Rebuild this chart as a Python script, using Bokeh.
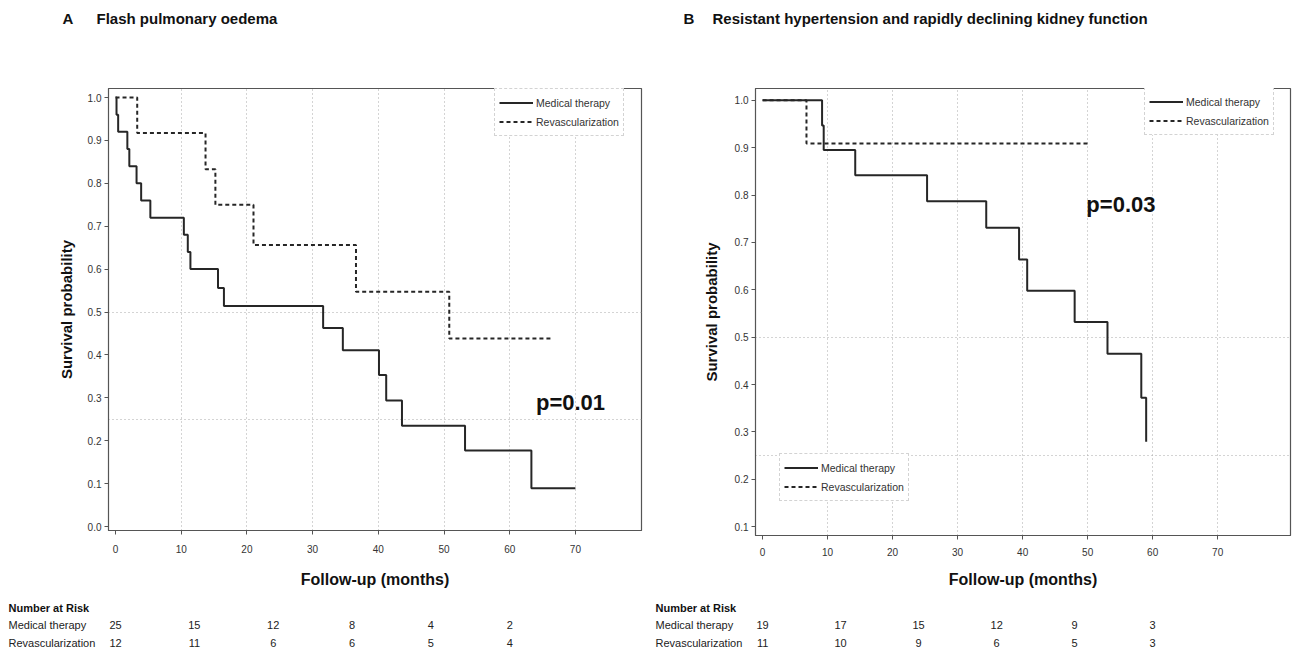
from bokeh.plotting import figure
from bokeh.layouts import row, column
from bokeh.models import (Range1d, FixedTicker, Legend, LegendItem, PrintfTickFormatter,
                          ColumnDataSource)
from bokeh.core.properties import value
from bokeh.embed import file_html
from bokeh.resources import INLINE

SANS = "'Liberation Sans', Arial, sans-serif"

# ---------------- data ----------------
x_ticks = [0, 10, 20, 30, 40, 50, 60, 70]
x_grid = [10, 20, 30, 40, 50, 60, 70]
y_grid = [0.25, 0.5]
a_y_ticks = [0.0, 0.1, 0.2, 0.3, 0.4, 0.5, 0.6, 0.7, 0.8, 0.9, 1.0]
b_y_ticks = [0.1, 0.2, 0.3, 0.4, 0.5, 0.6, 0.7, 0.8, 0.9, 1.0]

# Panel A: Flash pulmonary oedema
a_med_t = [0, 0.15, 0.4, 1.8, 2.1, 3.2, 3.9, 5.3, 10.4, 11.0, 11.4, 15.6, 16.5,
           31.6, 34.6, 40.1, 41.2, 43.6, 53.2, 63.3, 70.0]
a_med_s = [1.0, 0.96, 0.92, 0.88, 0.84, 0.80, 0.76, 0.72, 0.68, 0.64, 0.60, 0.556,
           0.514, 0.463, 0.411, 0.353, 0.294, 0.235, 0.177, 0.089, 0.089]
a_rev_t = [0, 3.3, 13.7, 15.2, 21.0, 36.6, 50.8, 66.2]
a_rev_s = [1.0, 0.917, 0.833, 0.75, 0.656, 0.547, 0.438, 0.438]

# Panel B: Resistant hypertension and rapidly declining kidney function
b_med_t = [0, 9.15, 9.4, 14.25, 25.3, 34.4, 39.45, 40.7, 48.0, 53.05, 58.25, 59.0]
b_med_s = [1.0, 0.947, 0.895, 0.842, 0.787, 0.731, 0.664, 0.598, 0.532, 0.465, 0.372, 0.279]
b_rev_t = [0, 6.75, 50.0]
b_rev_s = [1.0, 0.909, 0.909]

risk_times = [0, 12, 24, 36, 48, 60]
a_risk_med = [25, 15, 12, 8, 4, 2]
a_risk_rev = [12, 11, 6, 6, 5, 4]
b_risk_med = [19, 17, 15, 12, 9, 3]
b_risk_rev = [11, 10, 9, 6, 5, 3]

series_names = ["Medical therapy", "Revascularization"]

LINE = "#262626"
GRID = "#a8a8a8"
TITLE_H, MAIN_H, TABLE_H = 60, 530, 64


def bare_fig(width, height, xr, yr):
    p = figure(width=width, height=height, x_range=Range1d(*xr), y_range=Range1d(*yr),
               output_backend="svg", toolbar_location=None,
               x_axis_type=None, y_axis_type=None,
               min_border_left=0, min_border_right=0, min_border_top=0, min_border_bottom=0)
    p.frame_align = False
    p.outline_line_color = None
    p.grid.visible = False
    return p


def title_fig(width, letter, text, letter_x, text_x):
    p = bare_fig(width, TITLE_H, (0, width), (0, TITLE_H))
    p.text(x=[letter_x, text_x], y=[TITLE_H - 18] * 2, text=[letter, text],
           text_font=value(SANS), text_font_style="bold", text_font_size="15px",
           text_color="#111111", text_align="left", text_baseline="middle")
    return p


def main_fig(width, bl, br, bb, xr, yr, yticks, tick_standoff, label_standoff, ylab_standoff):
    p = figure(width=width, height=MAIN_H, x_range=Range1d(*xr), y_range=Range1d(*yr),
               output_backend="svg", toolbar_location=None,
               min_border_left=bl, min_border_right=br, min_border_top=28,
               min_border_bottom=bb)
    p.frame_align = False
    p.outline_line_color = "#555555"
    p.outline_line_width = 1.2
    p.xgrid.ticker = FixedTicker(ticks=x_grid)
    p.ygrid.ticker = FixedTicker(ticks=y_grid)
    p.grid.grid_line_color = GRID
    p.grid.grid_line_dash = "1 3"
    p.grid.grid_line_width = 1
    p.xaxis.ticker = FixedTicker(ticks=x_ticks)
    p.yaxis.ticker = FixedTicker(ticks=yticks)
    p.yaxis.formatter = PrintfTickFormatter(format="%.1f")
    for ax in (p.xaxis[0], p.yaxis[0]):
        ax.axis_line_color = "#555555"
        ax.major_tick_line_color = "#555555"
        ax.major_tick_in = 0
        ax.major_tick_out = 4
        ax.minor_tick_line_color = None
        ax.major_label_text_font = SANS
        ax.major_label_text_font_size = "10px"
        ax.major_label_text_color = "#333333"
        ax.axis_label_text_font = SANS
        ax.axis_label_text_font_style = "bold"
        ax.axis_label_text_color = "#111111"
    p.xaxis.axis_label = "Follow-up (months)"
    p.xaxis.axis_label_text_font_size = "16px"
    p.xaxis.major_label_standoff = tick_standoff
    p.xaxis.axis_label_standoff = label_standoff
    p.yaxis.axis_label = "Survival probability"
    p.yaxis.axis_label_text_font_size = "15px"
    p.yaxis.major_label_standoff = 3
    p.yaxis.axis_label_standoff = ylab_standoff
    return p


def add_curves(p, med_t, med_s, rev_t, rev_s):
    r1 = p.step(x=med_t, y=med_s, mode="after", line_width=2, line_color=LINE)
    r2 = p.step(x=rev_t, y=rev_s, mode="after", line_width=2, line_color=LINE, line_dash="4 3")
    return r1, r2


def add_legend(p, r1, r2, loc):
    lg = Legend(items=[LegendItem(label=series_names[0], renderers=[r1]),
                       LegendItem(label=series_names[1], renderers=[r2])],
                location=loc, orientation="vertical")
    lg.label_text_font = SANS
    lg.label_text_font_size = "10.5px"
    lg.label_text_color = "#333333"
    lg.glyph_width = 34
    lg.glyph_height = 19
    lg.label_height = 19
    lg.label_standoff = 3
    lg.spacing = 0
    lg.padding = 4
    lg.margin = 0
    lg.border_line_color = GRID
    lg.border_line_dash = "1 3"
    lg.background_fill_color = "white"
    lg.background_fill_alpha = 1.0
    p.add_layout(lg, "center")


def table_fig(width, bl, br, xr, med, rev, label_px):
    frame_w = width - bl - br
    ppm = frame_w / (xr[1] - xr[0])
    x0 = xr[0] - bl / ppm
    x1 = xr[1] + br / ppm
    p = bare_fig(width, TABLE_H, (x0, x1), (0, TABLE_H))
    lx = x0 + label_px / ppm
    y_head = 654 - 607
    y_med = 654 - 624
    y_rev = 654 - 642
    p.text(x=[lx], y=[y_head], text=["Number at Risk"], text_font=value(SANS),
           text_font_style="bold", text_font_size="11px", text_color="#111111",
           text_align="left", text_baseline="middle")
    p.text(x=[lx, lx], y=[y_med, y_rev], text=series_names, text_font=value(SANS),
           text_font_size="11px", text_color="#222222",
           text_align="left", text_baseline="middle")
    src = ColumnDataSource(dict(x=risk_times + risk_times,
                                y=[y_med] * len(risk_times) + [y_rev] * len(risk_times),
                                t=[str(v) for v in med] + [str(v) for v in rev]))
    p.text(x="x", y="y", text="t", source=src,
           text_font=value(SANS), text_font_size="11px", text_color="#222222",
           text_align="center", text_baseline="middle")
    return p


# ---------------- panel A ----------------
WA, BLA, BRA = 650, 108, 9
xrA = (-1.07, 80.06)
yrA = (-0.0093, 1.021)
pa = main_fig(WA, BLA, BRA, 60, xrA, yrA, a_y_ticks, 10, 15, 10)
ra1, ra2 = add_curves(pa, a_med_t, a_med_s, a_rev_t, a_rev_s)
add_legend(pa, ra1, ra2, (386, 394))
pa.text(x=[64.0], y=[0.29], text=["p=0.01"], text_font=value(SANS), text_font_style="bold",
        text_font_size="22px", text_color="#111111", text_align="left", text_baseline="middle")
ta = title_fig(WA, "A", "Flash pulmonary oedema", 62, 96)
tba = table_fig(WA, BLA, BRA, xrA, a_risk_med, a_risk_rev, 8)

# ---------------- panel B ----------------
WB, BLB, BRB = 642, 105, 2
xrB = (-1.09, 81.2)
yrB = (0.0812, 1.025)
pb = main_fig(WB, BLB, BRB, 50, xrB, yrB, b_y_ticks, 8, 12, 12)
rb1, rb2 = add_curves(pb, b_med_t, b_med_s, b_rev_t, b_rev_s)
add_legend(pb, rb1, rb2, (389, 400))
add_legend(pb, rb1, rb2, (24, 34))
pb.text(x=[49.8], y=[0.78], text=["p=0.03"], text_font=value(SANS), text_font_style="bold",
        text_font_size="22px", text_color="#111111", text_align="left", text_baseline="middle")
tb = title_fig(WB, "B", "Resistant hypertension and rapidly declining kidney function", 33, 62)
tbb = table_fig(WB, BLB, BRB, xrB, b_risk_med, b_risk_rev, 5)

layout = row(column(ta, pa, tba), column(tb, pb, tbb))

open("out.html", "w").write(file_html(layout, INLINE))
